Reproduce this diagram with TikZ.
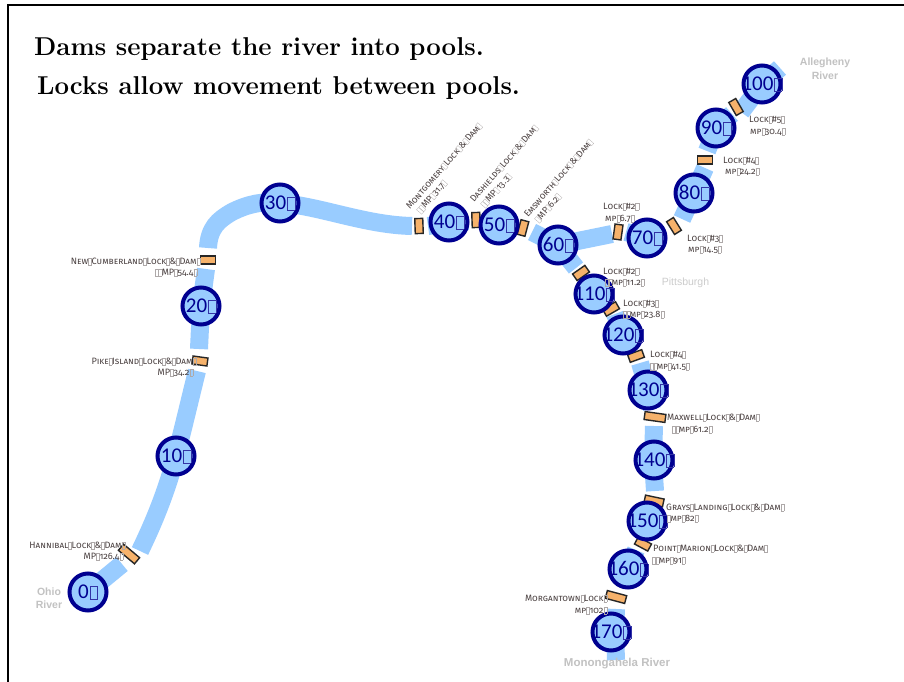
\documentclass[tikz,border=0pt]{standalone}
\usepackage{fontspec}
\newfontfamily\labfont[Letters=SmallCaps,Numbers=OldStyle]{Fira Sans}
\newfontfamily\numfont{Carlito}
\newfontfamily\geofont{Liberation Sans}
\definecolor{riverblue}{HTML}{99CCFF}
\definecolor{ringblue}{HTML}{000090}
\definecolor{lockorange}{HTML}{F6B26B}
\definecolor{locktext}{HTML}{4A4040}
\setlength{\fboxsep}{0pt}
\newcommand{\tofu}{\kern1pt{\color{ringblue!80}\setlength{\fboxrule}{0.5pt}\fbox{\rule{0pt}{12pt}\kern7pt}}}
\newcommand{\lt}{{\color{locktext!45}\setlength{\fboxrule}{0.25pt}\raisebox{-0.5pt}{\fbox{\rule{0pt}{6.5pt}\kern2.8pt}}}}
\tikzset{
  river/.style={line width=18pt,draw=riverblue,line cap=butt,line join=round},
  mile/.style={circle,draw=ringblue,fill=riverblue,line width=4pt,minimum size=37pt,inner sep=0pt,outer sep=0pt},
  milenum/.style={text=ringblue,font=\numfont\fontsize{21}{21}\selectfont,inner sep=0pt},
  lockbox/.style={rectangle,draw=black!85,fill=lockorange,line width=1.4pt,minimum height=8pt,inner sep=0pt,outer sep=0pt},
  locklabel/.style={text=locktext,font=\labfont\fontsize{9.2}{9.2}\selectfont,inner sep=0pt,anchor=base west},
  locklabelr/.style={locklabel,anchor=base east},
  titletext/.style={font=\bfseries\fontsize{25.8}{25.8}\selectfont,anchor=base west,inner sep=0pt},
  faint/.style={text=black!24,font=\geofont\bfseries\fontsize{10.5}{10.5}\selectfont,inner sep=0pt},
}
\begin{document}
\begin{tikzpicture}[x=1pt,y=-1pt]
\useasboundingbox (0,0) rectangle (904,682);
\fill[white] (0,0) rectangle (904,682);
\draw[line width=2pt] (8,682) -- (8,5.5) -- (904,5.5);
% river
\draw[river] (88,592) -- (122,564);
\draw[river] (140,551) .. controls (150,530) and (164,500) .. (176,456) .. controls (184,425) and (191,395) .. (197,371);
\draw[river] (199,349) -- (201,306) -- (206,269);
\draw[river] (208,248) .. controls (209,228) and (218,220) .. (232,212) .. controls (248,204) and (262,201) .. (280,203) .. controls (320,206) and (365,225) .. (412,226);
\draw[river] (428,226) -- (450,223) -- (468,221);
\draw[river] (483,222) -- (499,225) -- (514,227);
\draw[river] (532,232) -- (558,245) -- (612,234);
\draw[river] (626,232) -- (647,238) -- (664,231);
\draw[river] (682,219) -- (694,193) -- (705,168);
\draw[river] (707,151) -- (716,128) -- (732,114);
\draw[river] (741,112) -- (762,84) -- (780,68);
\draw[river] (558,245) -- (576,268);
\draw[river] (585,278) -- (594,294) -- (606,304);
\draw[river] (615,314) -- (623,335) -- (632,349);
\draw[river] (640,363) -- (648,390) -- (652,409);
\draw[river] (654,426) -- (653,460) -- (655,491);
\draw[river] (654,508) -- (647,521) -- (641,536);
\draw[river] (636,550) -- (628,569) -- (621,586);
\draw[river] (616,609) -- (615,632) -- (616,660);
% locks
\node[lockbox,minimum width=21pt,rotate=-40] (lhannibal) at (129,554) {};
\node[lockbox,minimum width=15pt,rotate=-8] (lpike) at (200,361) {};
\node[lockbox,minimum width=15pt] (lnewcumb) at (208,260) {};
\node[lockbox,minimum width=15pt,rotate=92] (lmont) at (419,226) {};
\node[lockbox,minimum width=15pt,rotate=92] (ldash) at (476,220) {};
\node[lockbox,minimum width=15pt,rotate=75] (lems) at (523,228) {};
\node[lockbox,minimum width=15pt,rotate=82] (lfirst) at (618,232) {};
\node[lockbox,minimum width=15pt,rotate=-58] (lthree) at (674,226) {};
\node[lockbox,minimum width=15pt] (lfour) at (705,160) {};
\node[lockbox,minimum width=15pt,rotate=-60] (lfive) at (736,107) {};
\node[lockbox,minimum width=15pt,rotate=35] (mtwo) at (581,273) {};
\node[lockbox,minimum width=15pt,rotate=30] (mthree) at (611,309) {};
\node[lockbox,minimum width=15pt,rotate=20] (mfour) at (636,356) {};
\node[lockbox,minimum width=21pt,rotate=-8] (lmax) at (655,417) {};
\node[lockbox,minimum width=19pt,rotate=-12] (lgrays) at (654,501) {};
\node[lockbox,minimum width=15pt,rotate=-28] (lpoint) at (643,544) {};
\node[lockbox,minimum width=20pt,rotate=-15] (lmorgan) at (616,597) {};
% mile circles
\foreach \nm/\x/\y in {0/88/592,10/176/456,20/201/306,30/280/203,40/449/222,50/499/225,60/558/245,70/647/238,80/694/193,90/716/128,100/762/84,110/594/294,120/623/335,130/648/390,140/654/460,150/647/521,160/628/569,170/611/632}{
  \node[mile] (c\nm) at (\x,\y) {};
  \node[milenum] (t\nm) at (\x,\y) {\nm\tofu};
}
% labels
\node[locklabelr] (a1) at (125,548) {Hannibal\lt Lock\lt\&\lt Dam\lt};
\node[locklabelr] (a2) at (123,559) {MP\lt 126.4\lt};
\node[locklabelr] (b1) at (196,364) {Pike\lt Island\lt Lock\lt\&\lt Dam\lt};
\node[locklabelr] (b2) at (193,375) {MP\lt 34.2\lt};
\node[locklabelr] (e1) at (200,264) {New\lt Cumberland\lt Lock\lt\&\lt Dam\lt};
\node[locklabelr] (e2) at (197,275) {\lt\lt MP\lt 54.4\lt};
\node[locklabel,rotate=49] (f1) at (410,210) {Montgomery\lt Lock\lt\&\lt Dam\lt};
\node[locklabel,rotate=49] (f2) at (421,214) {\lt\lt MP\lt 31.7\lt};
\node[locklabel,rotate=49] (g1) at (474,203) {Dashields\lt Lock\lt\&\lt Dam\lt};
\node[locklabel,rotate=49] (g2) at (485,208) {\lt\lt MP\lt 13.3\lt};
\node[locklabel,rotate=49] (h1) at (528,218) {Emsworth\lt Lock\lt\&\lt Dam\lt};
\node[locklabel,rotate=49] (h2) at (539,223) {\lt MP\lt 6.2\lt};
\node[locklabel] (i1) at (603,209) {Lock\lt\#2\lt};
\node[locklabel] (i2) at (605,221) {mp\lt 6.7\lt};
\node[locklabel] (j1) at (687,241) {Lock\lt\#3\lt};
\node[locklabel] (j2) at (688,252) {mp\lt 14.5\lt};
\node[locklabel] (k1) at (723,163) {Lock\lt\#4\lt};
\node[locklabel] (k2) at (725,174) {mp\lt 24.2\lt};
\node[locklabel] (l1) at (749,122) {Lock\lt\#5\lt};
\node[locklabel] (l2) at (750,134) {mp\lt 30.4\lt};
\node[locklabel] (m1) at (603,274) {Lock\lt\#2\lt};
\node[locklabel] (m2) at (605,285) {\lt\lt mp\lt 11.2\lt};
\node[locklabel] (n1) at (623,306) {Lock\lt\#3\lt};
\node[locklabel] (n2) at (623,317) {\lt\lt mp\lt 23.8\lt};
\node[locklabel] (o1) at (650,357) {Lock\lt\#4\lt};
\node[locklabel] (o2) at (650,369) {\lt\lt mp\lt 41.5\lt};
\node[locklabel] (p1) at (667,420) {Maxwell\lt Lock\lt\&\lt Dam\lt};
\node[locklabel] (p2) at (672,432) {\lt\lt mp\lt 61.2\lt};
\node[locklabel] (q1) at (666,510) {Grays\lt Landing\lt Lock\lt\&\lt Dam\lt};
\node[locklabel] (q2) at (667,521) {\lt mp\lt 82\lt};
\node[locklabel] (r1) at (653,551) {Point\lt Marion\lt Lock\lt\&\lt Dam\lt};
\node[locklabel] (r2) at (652,563) {\lt\lt mp\lt 91\lt};
\node[locklabelr] (s1) at (607,601) {Morgantown\lt Lock\lt};
\node[locklabelr] (s2) at (607,613) {mp\lt 102\lt};
% geography
\node[text=black!20,font=\geofont\fontsize{10.5}{10.5}\selectfont,inner sep=0pt] (pitt) at (685.5,283) {Pittsburgh};
\node[faint] (ohio1) at (49,592) {Ohio};
\node[faint] (ohio2) at (49,605) {River};
\node[faint] (alle1) at (825,63) {Allegheny};
\node[faint] (alle2) at (825,76) {River};
\node[faint,font=\geofont\bfseries\fontsize{11.5}{11.5}\selectfont] (mono) at (617,664) {Monongahela River};
% title
\node[titletext] (t1) at (34,56) {Dams separate the river into pools.};
\node[titletext] (t2) at (37,95) {Locks allow movement between pools.};
\end{tikzpicture}
\end{document}
